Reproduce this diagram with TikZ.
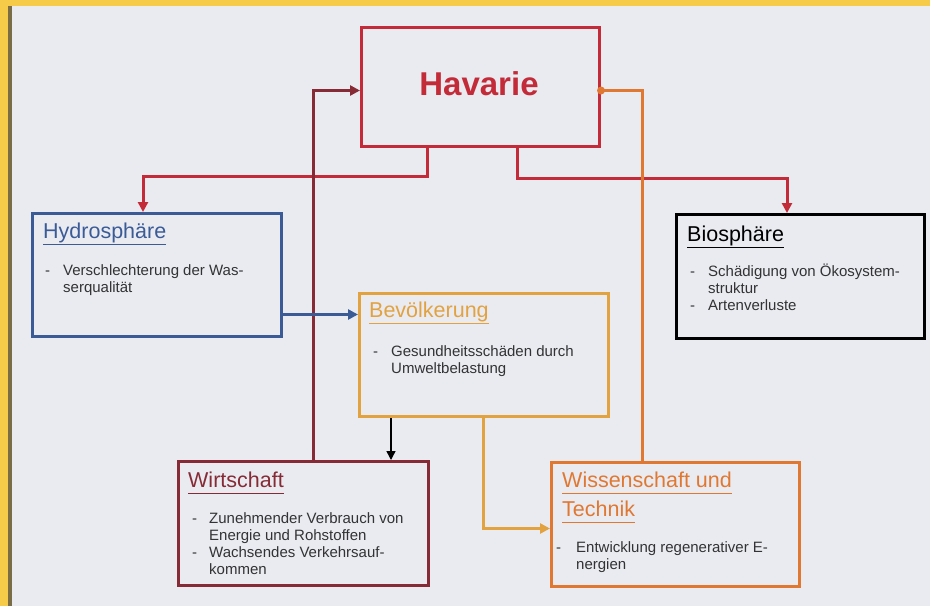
\documentclass[tikz,border=0pt]{standalone}
\usepackage{fontspec}
\setmainfont{Liberation Sans}
\usetikzlibrary{arrows.meta,calc}

\definecolor{havred}{HTML}{C32B38}
\definecolor{hyblue}{HTML}{3B5B97}
\definecolor{bevorange}{HTML}{E2A240}
\definecolor{wtorange}{HTML}{E07832}
\definecolor{wimaroon}{HTML}{862B35}
\definecolor{paper}{HTML}{E9EBF1}
\definecolor{framey}{HTML}{F6CB4A}
\definecolor{frameedge}{HTML}{7A6C45}
\definecolor{bodygray}{HTML}{333333}

\tikzset{
  box/.style={draw, line width=3pt, inner sep=0pt, anchor=north west,
    minimum width=#1, minimum height=124pt},
  box/.default=250pt,
  title/.style={anchor=base west, inner sep=0pt, font=\fontsize{21.5}{29}\selectfont},
  body/.style={anchor=base west, inner sep=0pt, text=bodygray,
    font=\fontsize{15}{16.8}\selectfont},
  link/.style={line width=3pt, line cap=rect},
  tip/.style={-{Triangle[length=10pt,width=10pt]}},
}
\newcommand{\boxtitle}[1]{\underline{#1\vphantom{y}}}

\begin{document}
\begin{tikzpicture}[x=1pt,y=-1pt]
\useasboundingbox (0,0) rectangle (930,606);

% sheet on yellow backing
\fill[framey] (0,0) rectangle (930,606);
\fill[paper] (10,6) rectangle (930,606);
\fill[frameedge] (8,6) rectangle (12,606);

% boxes
\node[box=238pt, minimum height=119pt, draw=havred] (hav) at (360,26) {};
\node[box=249pt, minimum height=123pt, draw=hyblue] (hy) at (31,212) {};
\node[box=249pt, minimum height=123pt, draw=bevorange] (bev) at (358,292) {};
\node[box=248pt, draw=black] (bio) at (675,213) {};
\node[box, draw=wimaroon] (wi) at (177,460) {};
\node[box=248pt, draw=wtorange] (wt) at (550,461) {};

% Havarie
\node[anchor=base, inner sep=0pt, text=havred, font=\fontsize{33}{36}\bfseries] (havtxt) at (479,95) {Havarie};

% Hydrosphäre
\node[title, text=hyblue] (hyt) at (43,238) {\boxtitle{Hydrosphäre}};
\node[body] (hyd) at (45,275) {-};
\node[body] (hyl1) at (63,275) {Verschlechterung der Was-};
\node[body] (hyl2) at (63,292) {serqualität};

% Bevölkerung
\node[title, text=bevorange] (bevt) at (369,317) {\boxtitle{Bevölkerung}};
\node[body] (bevd) at (373,356) {-};
\node[body] (bevl1) at (391,356) {Gesundheitsschäden durch};
\node[body] (bevl2) at (391,373) {Umweltbelastung};

% Biosphäre
\node[title, text=black] (biot) at (687,241) {\boxtitle{Biosphäre}};
\node[body] (biod1) at (690,276) {-};
\node[body] (biol1) at (708,276) {Schädigung von Ökosystem-};
\node[body] (biol2) at (708,293) {struktur};
\node[body] (biod2) at (690,310) {-};
\node[body] (biol3) at (708,310) {Artenverluste};

% Wirtschaft
\node[title, text=wimaroon] (wit) at (188,487) {\boxtitle{Wirtschaft}};
\node[body] (wid1) at (192,523) {-};
\node[body] (wil1) at (209,523) {Zunehmender Verbrauch von};
\node[body] (wil2) at (209,540) {Energie und Rohstoffen};
\node[body] (wid2) at (192,557) {-};
\node[body] (wil3) at (209,557) {Wachsendes Verkehrsauf-};
\node[body] (wil4) at (209,574) {kommen};

% Wissenschaft und Technik
\node[title, text=wtorange] (wtt1) at (562,487) {\boxtitle{Wissenschaft und}};
\node[title, text=wtorange] (wtt2) at (562,516) {\boxtitle{Technik}};
\node[body] (wtd) at (556,552) {-};
\node[body] (wtl1) at (576,552) {Entwicklung regenerativer E-};
\node[body] (wtl2) at (576,569) {nergien};

% connectors
\draw[link, havred, tip] ([xshift=67pt]hav.south west) -- ++(0,28)
  -| ([xshift=112pt]hy.north west);
\draw[link, havred, tip] ([xshift=157pt]hav.south west) -- ++(0,30)
  -| ([xshift=112pt]bio.north west);
\draw[link, wimaroon, tip] ([xshift=136pt]wi.north west) |- ([yshift=-3.5pt]hav.west);
\coordinate (dot) at ([yshift=-3.5pt]hav.east);
\draw[link, wtorange] ([xshift=92pt]wt.north west) |- (dot);
\fill[wtorange] (dot) circle (4pt);
\draw[link, hyblue, tip] ([yshift=-39.5pt]hy.east) -- ([yshift=-39.5pt]hy.east -| bev.west);
\draw[line width=1.4pt, black, -{Triangle[length=9pt,width=9pt]}] ([xshift=33pt]bev.south west)
  -- ([xshift=33pt]bev.south west |- wi.north);
\draw[link, bevorange, tip] ([xshift=125pt]bev.south west) |- ([yshift=-4pt]wt.west);
\end{tikzpicture}
\end{document}
